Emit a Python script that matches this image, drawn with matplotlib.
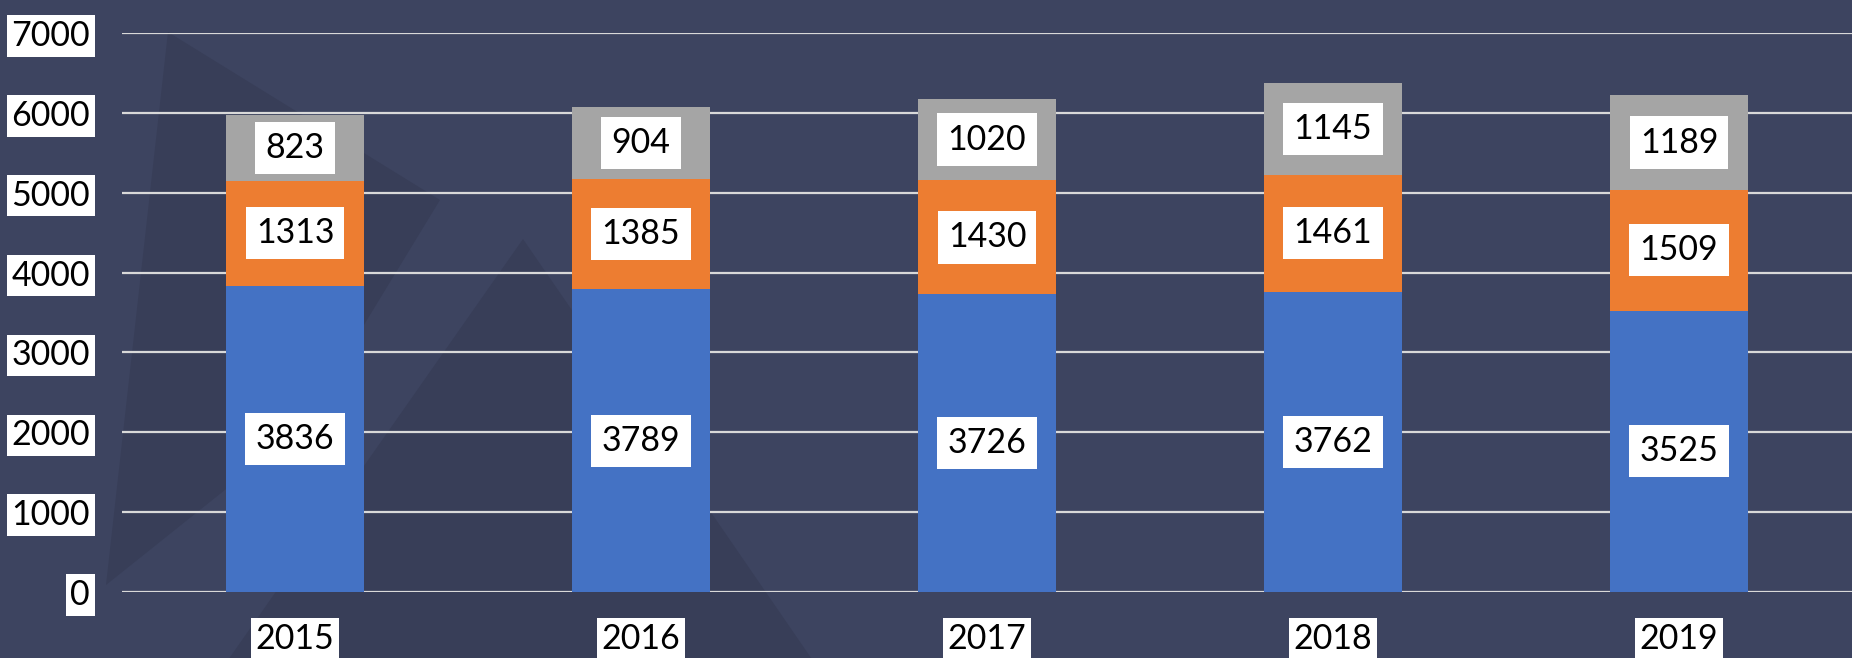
import matplotlib
matplotlib.use("Agg")
import matplotlib.pyplot as plt
from matplotlib.patches import Polygon
import numpy as np

# data
years  = ["2015", "2016", "2017", "2018", "2019"]
blue   = [3836, 3789, 3726, 3762, 3525]
orange = [1313, 1385, 1430, 1461, 1509]
gray   = [823, 904, 1020, 1145, 1189]
yticks = [0, 1000, 2000, 3000, 4000, 5000, 6000, 7000]

BG     = "#3d4460"
SHADE  = "#383e58"
COLORS = ["#4472c4", "#ed7d31", "#a5a5a5"]
FONT   = "Lato"
FS     = 24.5

W, H = 1852, 658
fig = plt.figure(figsize=(W / 100, H / 100), dpi=100)
fig.patch.set_facecolor(BG)

# faint decorative shapes behind the chart (pixel coords, y measured from top)
for pts in [
    [(168, 32), (440, 200), (300, 430), (106, 585)],
    [(523, 239), (840, 700), (200, 700)],
]:
    pts = [(px, H - py) for px, py in pts]
    fig.patches.append(Polygon(pts, closed=True, transform=None,
                               facecolor=SHADE, edgecolor="none", zorder=-1))

# axes placed so that 0 sits at y=592 px and 7000 at y=33 px
left, right, top, bottom = 122, W, 33, 592
ax = fig.add_axes([left / W, (H - bottom) / H, (right - left) / W, (bottom - top) / H])
ax.set_facecolor("none")
ax.set_zorder(1)

x = np.arange(len(years))
bw = 0.4
base = np.zeros(len(years))
for vals, col in zip([blue, orange, gray], COLORS):
    vals = np.array(vals)
    ax.bar(x, vals, bw, bottom=base, color=col, zorder=3)
    for xi, b, v in zip(x, base, vals):
        ax.text(xi, b + v / 2, f"{v}", ha="center", va="center",
                fontsize=FS, family=FONT, color="black", zorder=5,
                bbox=dict(boxstyle="square,pad=0.3", fc="white", ec="none"))
    base = base + vals

ax.set_xlim(-0.5, 4.5)
ax.set_ylim(0, 7000)
ax.set_yticks(yticks)
ax.set_xticks(x)
ax.set_xticklabels(years)
ax.yaxis.grid(True, color="#d9d9d9", lw=1.6, zorder=1)
ax.set_axisbelow(True)
for s in ax.spines.values():
    s.set_visible(False)

ax.tick_params(axis="y", length=0, pad=23)
ax.tick_params(axis="x", length=0, pad=22)
for lbl in ax.get_yticklabels() + ax.get_xticklabels():
    lbl.set_fontsize(FS)
    lbl.set_family(FONT)
    lbl.set_color("black")
    lbl.set_bbox(dict(boxstyle="square,pad=0.14", fc="white", ec="none"))

fig.savefig("out.png", dpi=100, facecolor=BG)
